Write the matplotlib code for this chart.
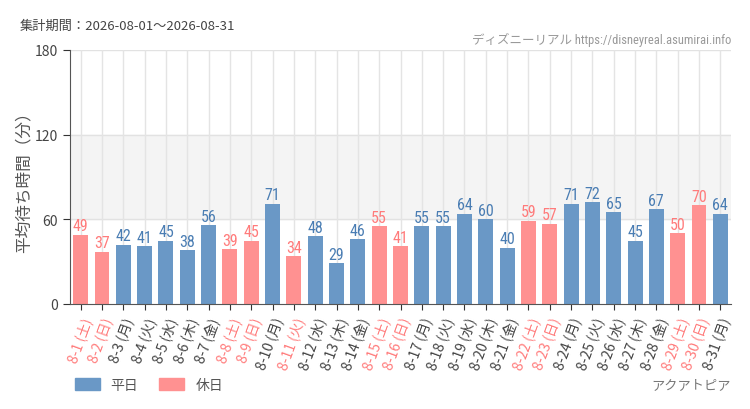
import matplotlib.pyplot as plt
from matplotlib.patches import Patch
from matplotlib import font_manager

plt.rcParams['font.family'] = ['Noto Sans CJK JP', 'DejaVu Sans']

days = list(range(1, 32))
weekdays = ['土', '日', '月', '火', '水', '木', '金', '土', '日', '月', '火', '水', '木', '金',
            '土', '日', '月', '火', '水', '木', '金', '土', '日', '月', '火', '水', '木', '金',
            '土', '日', '月']
waits = [49, 37, 42, 41, 45, 38, 56, 39, 45, 71, 34, 48, 29, 46, 55, 41,
         55, 55, 64, 60, 40, 59, 57, 71, 72, 65, 45, 67, 50, 70, 64]
holidays = [1, 2, 8, 9, 11, 15, 16, 22, 23, 29, 30]
yticks = [0, 60, 120, 180]

blue = '#6a98c6'
pink = '#ff9191'
blue_txt = '#4a7db3'
pink_txt = '#ff7b7b'

# narrow font for the numbers, if any is around
names = set(f.name for f in font_manager.fontManager.ttflist)
narrow = None
for cand in ['Roboto Condensed', 'Liberation Sans Narrow', 'DejaVu Sans Condensed', 'Open Sans Condensed']:
    if cand in names:
        narrow = cand
        break
condensed = [f for f in font_manager.fontManager.ttflist if 'ondensed' in f.fname or 'Narrow' in f.fname]
if narrow is None and condensed:
    narrow = condensed[0].name
num_family = [narrow, 'DejaVu Sans'] if narrow else ['DejaVu Sans']

fig = plt.figure(figsize=(7.5, 4.1), dpi=100)
ax = fig.add_axes([70 / 750, 105 / 410, 661 / 750, 254 / 410])

x = list(range(len(days)))
is_hol = [d in holidays for d in days]
colors = [pink if h else blue for h in is_hol]

ax.axhspan(60, 120, color='#f4f4f4', zorder=0)
for v in yticks[1:]:
    ax.axhline(v, color='#e2e2e2', lw=1, zorder=0.5)
for xi in x:
    ax.axvline(xi, color='#e4e4e4', lw=1, zorder=0.5)

ax.bar(x, waits, width=0.7, color=colors, zorder=2)
for xi, v, h in zip(x, waits, is_hol):
    ax.text(xi, v + 1, str(v), ha='center', va='bottom', fontsize=11.5,
            color=pink_txt if h else blue_txt, family=num_family, fontstretch='condensed',
            zorder=3)

ax.set_xlim(-0.5, 30.5)
ax.set_ylim(0, 180)
ax.set_yticks(yticks)
ax.set_yticklabels([str(v) for v in yticks], fontsize=10, color='#444444')
ax.set_xticks(x)
labels = ['8-%d (%s)' % (d, w) for d, w in zip(days, weekdays)]
ax.set_xticklabels(labels, rotation=70, ha='right', va='top', rotation_mode='anchor', fontsize=10)
for lab, h in zip(ax.get_xticklabels(), is_hol):
    lab.set_color(pink_txt if h else '#444444')
ax.tick_params(axis='x', length=4, color='#333333', pad=4)
ax.tick_params(axis='y', length=5, color='#333333')

for s in ['top', 'right']:
    ax.spines[s].set_visible(False)
ax.spines['left'].set_color('#555555')
ax.spines['bottom'].set_color('#555555')

ax.set_ylabel('平均待ち時間（分）', fontsize=12, color='#555555')
ax.yaxis.set_label_coords(-37 / 661, 0.5)

fig.text(20 / 750, 1 - 26 / 410, '集計期間：2026-08-01～2026-08-31', fontsize=9.5,
         color='#444444', va='center', ha='left')
fig.text(731 / 750, 1 - 40 / 410, 'ディズニーリアル https://disneyreal.asumirai.info', fontsize=9,
         color='#999999', va='center', ha='right', family=num_family[:-1] + ['Noto Sans CJK JP'],
         fontstretch='condensed')
fig.text(731 / 750, 1 - 386 / 410, 'アクアトピア', fontsize=9.5, color='#777777',
         va='center', ha='right')

handles = [Patch(color=blue, label='平日'), Patch(color=pink, label='休日')]
fig.legend(handles=handles, loc='center left', bbox_to_anchor=(62 / 750, 1 - 386 / 410),
           ncol=2, frameon=False, fontsize=10, handlelength=1.8, handleheight=0.9,
           columnspacing=1.5, labelcolor='#555555')

fig.savefig('out.png', dpi=100)
